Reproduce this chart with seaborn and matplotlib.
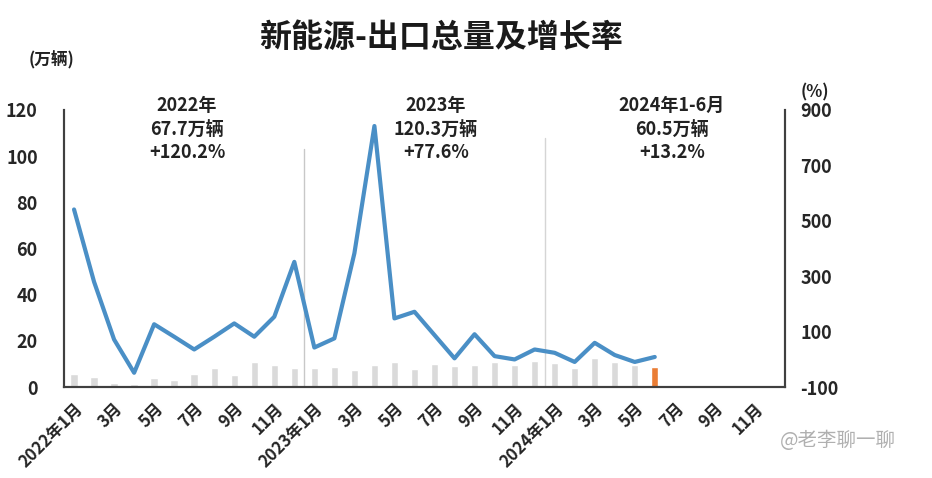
import numpy as np
import pandas as pd
import matplotlib
matplotlib.use("Agg")
import matplotlib.pyplot as plt
import seaborn as sns

# ---------------- data ----------------
months = [
    "2022年1月", "2022年2月", "2022年3月", "2022年4月", "2022年5月", "2022年6月",
    "2022年7月", "2022年8月", "2022年9月", "2022年10月", "2022年11月", "2022年12月",
    "2023年1月", "2023年2月", "2023年3月", "2023年4月", "2023年5月", "2023年6月",
    "2023年7月", "2023年8月", "2023年9月", "2023年10月", "2023年11月", "2023年12月",
    "2024年1月", "2024年2月", "2024年3月", "2024年4月", "2024年5月", "2024年6月",
    "2024年7月", "2024年8月", "2024年9月", "2024年10月", "2024年11月", "2024年12月",
]
# monthly NEV exports (万辆), Jan 2022 - Jun 2024
exports = [5.8, 4.6, 1.7, 1.2, 4.1, 2.9, 5.5, 8.2, 5.1, 10.8, 9.7, 8.2,
           8.2, 8.7, 7.5, 9.7, 10.8, 7.7, 10.1, 9.0, 9.4, 11.0, 9.4, 11.3,
           10.4, 8.5, 12.6, 10.7, 9.7, 8.9]
# year-on-year growth (%)
growth = [541, 280, 72, -48, 127, 82, 36, 82, 130, 82, 154, 352,
          43, 76, 383, 842, 148, 172, 88, 4, 91, 12, 0, 36,
          24, -9, 60, 16, -9, 9]
bar_kind = ["past"] * 29 + ["latest"]

tick_labels = ["2022年1月", "3月", "5月", "7月", "9月", "11月",
               "2023年1月", "3月", "5月", "7月", "9月", "11月",
               "2024年1月", "3月", "5月", "7月", "9月", "11月"]

year_notes = ["2022年\n67.7万辆\n+120.2%",
              "2023年\n120.3万辆\n+77.6%",
              "2024年1-6月\n60.5万辆\n+13.2%"]

title = "新能源-出口总量及增长率"

# ---------------- style ----------------
sns.set_style("white")
plt.rcParams["font.family"] = ["Noto Sans CJK SC", "DejaVu Sans"]
plt.rcParams["axes.unicode_minus"] = False

GREY = "#dadada"
ORANGE = "#ea7d35"
BLUE = "#4a8fc6"
SPINE = "#404040"

fig = plt.figure(figsize=(9.32, 4.78), dpi=100)
ax = fig.add_axes([0.0687, 0.190, 0.7735, 0.580])

df_bar = pd.DataFrame({"month": months[:len(exports)],
                       "exports": exports,
                       "kind": bar_kind})
sns.barplot(data=df_bar, x="month", y="exports", hue="kind", order=months,
            palette={"past": GREY, "latest": ORANGE}, dodge=False,
            width=0.37, errorbar=None, legend=False, saturation=1, ax=ax)

ax2 = ax.twinx()
pos = np.arange(len(growth))
sns.lineplot(x=pos, y=growth, ax=ax2, color=BLUE, linewidth=3, zorder=3)

ax.set_xlim(-0.5, len(months) - 0.5)
ax.set_ylim(0, 120)
ax2.set_ylim(-100, 900)
ax.set_yticks(range(0, 121, 20))
ax2.set_yticks(range(-100, 901, 200))

ax.set_xticks(range(0, len(months), 2))
ax.set_xticklabels(tick_labels, rotation=45, ha="right", rotation_mode="anchor",
                   fontsize=12, fontweight="bold")
for lab in ax.get_yticklabels():
    lab.set_fontsize(13)
    lab.set_fontweight("bold")
for lab in ax2.get_yticklabels():
    lab.set_fontsize(13)
    lab.set_fontweight("bold")
ax.tick_params(axis="x", length=0, pad=9)
ax.tick_params(axis="y", length=0, pad=19)
ax2.tick_params(axis="y", length=0, pad=11)

for a in (ax, ax2):
    a.set_xlabel("")
    a.set_ylabel("")
    a.spines["top"].set_visible(False)
    for s in ("left", "right", "bottom"):
        a.spines[s].set_color(SPINE)
        a.spines[s].set_linewidth(1.5)

# year separators
ax.plot([11.5, 11.5], [0, 103], color="#c8c8c8", lw=1, zorder=1)
ax.plot([23.5, 23.5], [0, 108], color="#d5d5d5", lw=1, zorder=1)

# annotations (figure coordinates)
fig.text(441 / 932, 1 - 38 / 478, title, ha="center", va="center",
         fontsize=23, fontweight="bold", color="#1a1a1a")
fig.text(52 / 932, 1 - 60 / 478, "(万辆)", ha="center", va="center",
         fontsize=12, fontweight="bold", color="#222222")
fig.text(815 / 932, 1 - 92 / 478, "(%)", ha="center", va="center",
         fontsize=12, fontweight="bold", color="#222222")
for x, note in zip([187, 436, 672], year_notes):
    fig.text(x / 932, 1 - 129 / 478, note, ha="center", va="center",
             fontsize=13, fontweight="bold", color="#222222", linespacing=1.3)

fig.text(838 / 932, 1 - 441 / 478, "@老李聊一聊", ha="center", va="center",
         fontsize=14, color="#b0b0b0")

fig.savefig("out.png", dpi=100)
